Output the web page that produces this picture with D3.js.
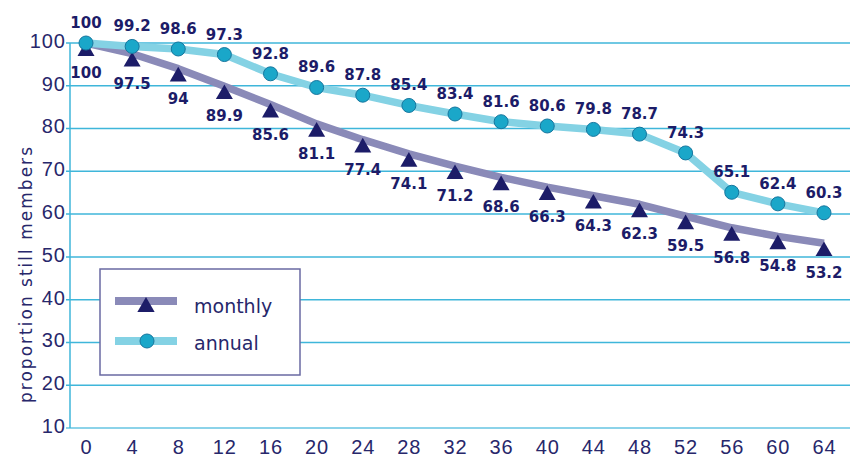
<!DOCTYPE html>
<html>
<head>
<meta charset="utf-8">
<script src="https://cdn.jsdelivr.net/npm/d3@7"></script>
<style>
  body { margin: 0; background: #fff; }
  svg { display: block; }
</style>
</head>
<body>
<svg id="chart" width="850" height="457"></svg>
<script>
var width = 850;
var height = 457;

// data
var months = [0, 4, 8, 12, 16, 20, 24, 28, 32, 36, 40, 44, 48, 52, 56, 60, 64];
var monthly = [100, 97.5, 94, 89.9, 85.6, 81.1, 77.4, 74.1, 71.2, 68.6, 66.3, 64.3, 62.3, 59.5, 56.8, 54.8, 53.2];
var annual = [100, 99.2, 98.6, 97.3, 92.8, 89.6, 87.8, 85.4, 83.4, 81.6, 80.6, 79.8, 78.7, 74.3, 65.1, 62.4, 60.3];
var yTicks = [10, 20, 30, 40, 50, 60, 70, 80, 90, 100];
var seriesNames = ["monthly", "annual"];

var gridColor = "#3fb6da";
var navy = "#1c1c68";
var monthlyLine = "#8a8ab8";
var annualLine = "#84d2e4";
var circleFill = "#1aa7c9";
var circleStroke = "#17769e";

var svg = d3.select("#chart");

var x = d3.scaleLinear().domain([0, 64]).range([86, 824]);
var y = d3.scaleLinear().domain([10, 100]).range([428, 43]);

// gridlines
svg.append("g").selectAll("line").data(yTicks).enter().append("line")
  .attr("x1", 66).attr("x2", width)
  .attr("y1", function(d){ return y(d); })
  .attr("y2", function(d){ return y(d); })
  .attr("stroke", gridColor)
  .attr("stroke-width", function(d){ return d == 10 ? 2 : 1.5; })
  .attr("stroke-opacity", function(d){ return d == 10 ? 0.6 : 1; });

// left axis line
svg.append("line")
  .attr("x1", 70).attr("x2", 70)
  .attr("y1", y(100)).attr("y2", y(10))
  .attr("stroke", gridColor).attr("stroke-width", 1.5);

// y tick labels
var yAxis = d3.axisLeft(y).tickValues(yTicks).tickSize(0).tickPadding(0);
var yg = svg.append("g").attr("transform", "translate(66,-2)").call(yAxis);
yg.select(".domain").remove();
yg.selectAll("text")
  .attr("fill", "#27276b")
  .style("font-family", "Liberation Sans")
  .style("font-size", "20px")
  .style("letter-spacing", "1px");

// x tick labels
var xAxis = d3.axisBottom(x).tickValues(months).tickSize(0).tickPadding(0);
var xg = svg.append("g").attr("transform", "translate(0,437)").call(xAxis);
xg.select(".domain").remove();
xg.selectAll("text")
  .attr("fill", "#27276b")
  .attr("dy", "0.85em")
  .style("font-family", "Liberation Sans")
  .style("font-size", "20px")
  .style("letter-spacing", "1px");

// y axis title
svg.append("text")
  .attr("transform", "translate(32,275) rotate(-90)")
  .attr("text-anchor", "middle")
  .attr("fill", "#27276b")
  .attr("textLength", 256)
  .attr("lengthAdjust", "spacing")
  .style("font-family", "DejaVu Sans")
  .style("font-size", "17px")
  .text("proportion still members");

// lines
var line = d3.line()
  .x(function(d, i){ return x(months[i]); })
  .y(function(d){ return y(d); });

svg.append("path").datum(monthly)
  .attr("d", line)
  .attr("fill", "none")
  .attr("stroke", monthlyLine)
  .attr("stroke-width", 7.5)
  .attr("stroke-linejoin", "round");

svg.append("path").datum(annual)
  .attr("d", line)
  .attr("fill", "none")
  .attr("stroke", annualLine)
  .attr("stroke-width", 7.5)
  .attr("stroke-linejoin", "round");

// markers
var tri = d3.symbol().type(d3.symbolTriangle).size(125);

svg.append("g").selectAll("path").data(monthly).enter().append("path")
  .attr("d", tri)
  .attr("transform", function(d, i){ return "translate(" + x(months[i]) + "," + (y(d) + 8) + ")"; })
  .attr("fill", navy);

svg.append("g").selectAll("circle").data(annual).enter().append("circle")
  .attr("cx", function(d, i){ return x(months[i]); })
  .attr("cy", function(d){ return y(d); })
  .attr("r", 7)
  .attr("fill", circleFill)
  .attr("stroke", circleStroke)
  .attr("stroke-width", 1);

// value labels
function addLabels(values, dy){
  svg.append("g").selectAll("text").data(values).enter().append("text")
    .attr("x", function(d, i){ return x(months[i]); })
    .attr("y", function(d){ return y(d) + dy; })
    .attr("text-anchor", "middle")
    .attr("fill", navy)
    .style("font-family", "DejaVu Sans")
    .style("font-weight", "bold")
    .style("font-size", "15px")
    .text(function(d){ return d; });
}
addLabels(monthly, 35);
addLabels(annual, -15);

// legend
var legend = svg.append("g");
legend.append("rect")
  .attr("x", 100).attr("y", 269)
  .attr("width", 200).attr("height", 106)
  .attr("fill", "#fff")
  .attr("stroke", "#6a6aa2")
  .attr("stroke-width", 1.5);

var legendRows = legend.selectAll("g.row").data(seriesNames).enter().append("g")
  .attr("class", "row")
  .attr("transform", function(d, i){ return "translate(0," + (301 + i * 40) + ")"; });

legendRows.append("line")
  .attr("x1", 115).attr("x2", 177)
  .attr("stroke", function(d, i){ return i == 0 ? monthlyLine : annualLine; })
  .attr("stroke-width", 8);

legendRows.filter(function(d, i){ return i == 0; }).append("path")
  .attr("d", d3.symbol().type(d3.symbolTriangle).size(130))
  .attr("transform", "translate(146,6)")
  .attr("fill", navy);

legendRows.filter(function(d, i){ return i == 1; }).append("circle")
  .attr("cx", 147).attr("cy", 0).attr("r", 7)
  .attr("fill", circleFill)
  .attr("stroke", circleStroke)
  .attr("stroke-width", 1);

legendRows.append("text")
  .attr("x", 194)
  .attr("y", function(d, i){ return i == 0 ? 12 : 9; })
  .attr("fill", "#27276b")
  .style("font-family", "DejaVu Sans")
  .style("font-size", "19px")
  .text(function(d){ return d; });
</script>
</body>
</html>
